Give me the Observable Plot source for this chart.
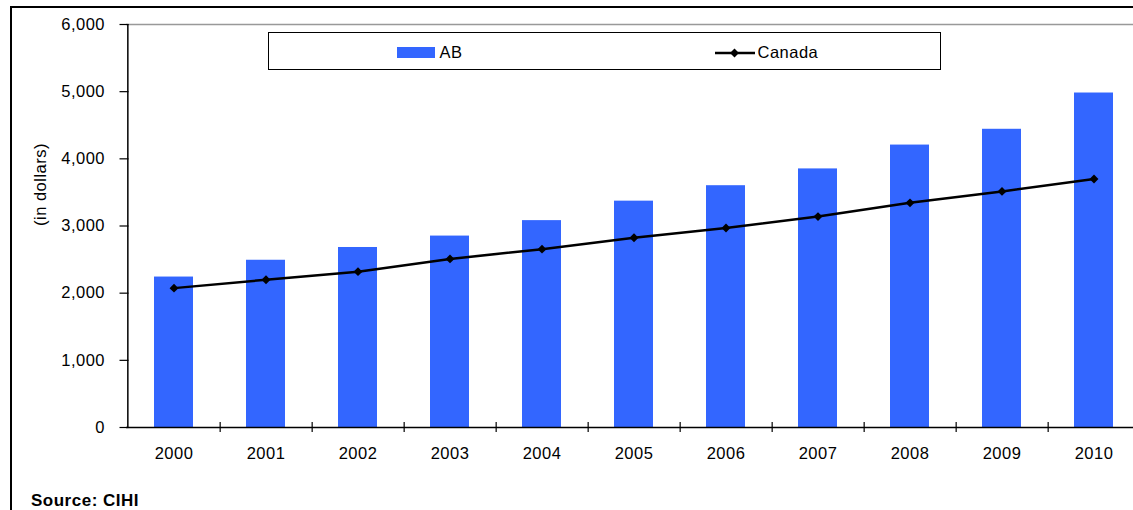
<!DOCTYPE html>
<html>
<head>
<meta charset="utf-8">
<script src="https://cdn.jsdelivr.net/npm/d3@7"></script>
<script src="https://cdn.jsdelivr.net/npm/@observablehq/plot@0.6"></script>
<style>
  html, body { margin: 0; padding: 0; background: #fff; overflow: hidden; }
  #wrap { position: relative; width: 1133px; height: 510px; overflow: hidden;
          font-family: "Liberation Sans", Arial, sans-serif; }
  #wrap svg text { letter-spacing: 0.5px; }
  .frame { position: absolute; left: 10px; top: 6px; width: 1300px; height: 700px;
           border: 2px solid #000; box-sizing: border-box; pointer-events: none; }
  .legend { position: absolute; left: 268px; top: 32px; width: 673px; height: 38px;
            border: 1.5px solid #000; box-sizing: border-box; background: #fff; }
  .lg { position: absolute; font-size: 16.5px; line-height: 16.5px; letter-spacing: 0.5px; color: #000; }
  .source { position: absolute; left: 31px; top: 491.6px; font-size: 17px; line-height: 17px;
            font-weight: bold; letter-spacing: 0.5px; }
</style>
</head>
<body>
<div id="wrap"></div>
<script>
// Annual spending per person, Alberta vs. Canada (dollars)
const years = ["2000", "2001", "2002", "2003", "2004", "2005", "2006", "2007", "2008", "2009", "2010"];
const abValues = [2240, 2490, 2680, 2850, 3080, 3370, 3600, 3850, 4205, 4440, 4980];
const canadaValues = [2075, 2200, 2320, 2510, 2655, 2825, 2970, 3140, 3345, 3515, 3700];
const yTicks = [0, 1000, 2000, 3000, 4000, 5000, 6000];

const seriesNames = ["AB", "Canada"];
const barColor = "#3366ff";

const rows = years.map((year, i) => ({year, ab: abValues[i], canada: canadaValues[i]}));

// the category axis runs a little past the right edge of the drawing
const xRange = [126, 1141.5];
const step = (xRange[1] - xRange[0]) / years.length;

const chart = Plot.plot({
  width: 1133,
  height: 510,
  marginLeft: 126,
  marginRight: 0,
  marginTop: 24,
  marginBottom: 83,
  style: {fontFamily: "'Liberation Sans', Arial, sans-serif", fontSize: "16.5px", background: "transparent", color: "#000"},
  x: {type: "band", domain: years, range: xRange, paddingInner: 0.58, paddingOuter: 0.29, axis: null},
  y: {domain: [0, 6000], axis: null},
  marks: [
    Plot.ruleY([6000], {stroke: "#999", strokeWidth: 1.5}),
    Plot.barY(rows, {x: "year", y: "ab", fill: barColor}),
    Plot.ruleY([0], {stroke: "#000", strokeWidth: 1.5}),
    // vertical value axis line at the left edge of the first band
    Plot.ruleX([years[0]], {dx: -step / 2, y1: 0, y2: 6000, stroke: "#000", strokeWidth: 1.5}),
    Plot.axisY({ticks: yTicks, tickFormat: d3.format(","), tickSize: 9, dx: 2.5, tickPadding: 15,
                strokeWidth: 1.2, label: null}),
    // category separators crossing the baseline
    Plot.axisX({tickSize: 10, dx: step / 2, dy: -5, fill: "none", strokeWidth: 1.2, label: null}),
    Plot.axisX({tickSize: 0, tickPadding: 20, label: null}),
    Plot.line(rows, {x: "year", y: "canada", stroke: "#000", strokeWidth: 2.5}),
    Plot.dot(rows, {x: "year", y: "canada", symbol: "diamond2", r: 4, fill: "#000", stroke: "none"}),
    Plot.text(["(in dollars)"], {frameAnchor: "left", dx: -86, rotate: -90, fontSize: 16.5})
  ]
});

const wrap = document.getElementById("wrap");
wrap.appendChild(chart);

// outer chart border
const frame = document.createElement("div");
frame.className = "frame";
wrap.appendChild(frame);

// legend
const legend = document.createElement("div");
legend.className = "legend";
wrap.appendChild(legend);

function place(el, left, top) {
  el.style.left = (left - 268 - 1.5) + "px";
  el.style.top = (top - 32 - 1.5) + "px";
  legend.appendChild(el);
}

const swatch = document.createElement("div");
swatch.style.cssText = `position:absolute;width:38px;height:11px;background:${barColor};`;
place(swatch, 397, 47);

const abLabel = document.createElement("div");
abLabel.className = "lg";
abLabel.textContent = seriesNames[0];
place(abLabel, 440, 44.5);

const ns = "http://www.w3.org/2000/svg";
const key = document.createElementNS(ns, "svg");
key.setAttribute("width", 42);
key.setAttribute("height", 12);
key.style.position = "absolute";
key.innerHTML = `<line x1="0" y1="6" x2="40" y2="6" stroke="#000" stroke-width="2.5"/>` +
  `<path d="${d3.symbol(d3.symbolDiamond2, 16 * Math.PI)()}" transform="translate(19.5,6)" fill="#000"/>`;
place(key, 715, 47.3);

const caLabel = document.createElement("div");
caLabel.className = "lg";
caLabel.textContent = seriesNames[1];
place(caLabel, 758, 44.5);

// caption
const source = document.createElement("div");
source.className = "source";
source.textContent = "Source: CIHI";
wrap.appendChild(source);
</script>
</body>
</html>
